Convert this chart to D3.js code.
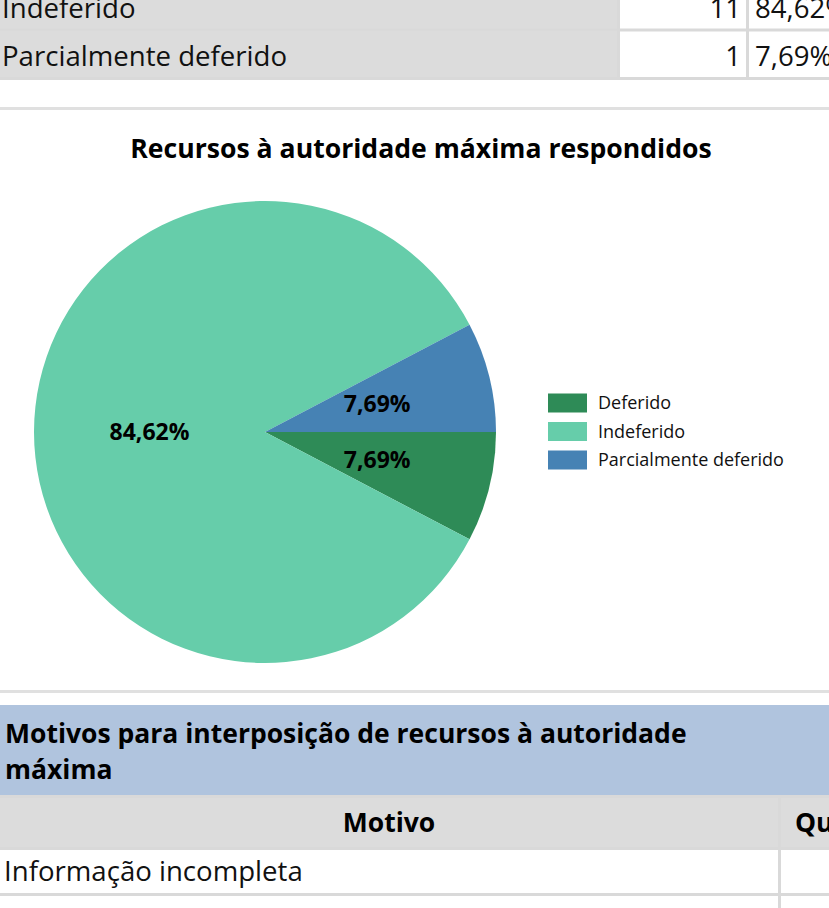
<!DOCTYPE html>
<html>
<head>
<meta charset="utf-8">
<script src="https://cdn.jsdelivr.net/npm/d3@7"></script>
<style>
  body { margin: 0; background: #fff; }
  svg text { font-family: "Open Sans", "Noto Sans", sans-serif; }
</style>
</head>
<body>
<div id="page"></div>
<script>
// chart data
var categories = ["Deferido", "Indeferido", "Parcialmente deferido"]
var counts = [1, 11, 1]
var colors = ["#2e8b57", "#66cdaa", "#4682b4"]
var chartTitle = "Recursos à autoridade máxima respondidos"

// table rows around the chart (visible parts only)
var topRows = [["Indeferido", 11], ["Parcialmente deferido", 1]]
var motivoTitle = ["Motivos para interposição de recursos à autoridade", "máxima"]
var motivoHeader = ["Motivo", "Qu"]
var motivoRows = ["Informação incompleta", ""]

var width = 829, height = 908
var total = d3.sum(counts)
var fmt = function(v) { return d3.format(".2f")(v / total * 100).replace(".", ",") + "%" }

var svg = d3.select("#page").append("svg")
    .attr("width", width)
    .attr("height", height)

var lineColor = "#d9d9d9", cellGray = "#dcdcdc"
var bodySize = 27.6, boldSize = 26.5

// ---- top table ----
var rowY = d3.scaleBand().domain(d3.range(topRows.length)).range([-18, 79]).paddingInner(0)
var topTable = svg.append("g")
topRows.forEach(function(r, i) {
  var y = rowY(i), h = rowY.bandwidth()
  topTable.append("rect").attr("x", 0).attr("y", y).attr("width", 618).attr("height", h).attr("fill", cellGray)
  topTable.append("text").attr("x", 2).attr("y", y + h - 13).attr("font-size", bodySize).attr("fill", "#111").text(r[0])
  topTable.append("text").attr("x", 741).attr("y", y + h - 13).attr("text-anchor", "end").attr("font-size", bodySize).attr("fill", "#111").text(r[1])
  topTable.append("text").attr("x", 755).attr("y", y + h - 13).attr("font-size", bodySize).attr("fill", "#111").text(fmt(r[1]))
  topTable.append("rect").attr("x", 0).attr("y", y + h - 2).attr("width", width).attr("height", 3).attr("fill", lineColor)
})
topTable.append("rect").attr("x", 617).attr("y", 0).attr("width", 3).attr("height", 79).attr("fill", lineColor)
topTable.append("rect").attr("x", 746).attr("y", 0).attr("width", 3).attr("height", 79).attr("fill", lineColor)

svg.append("rect").attr("x", 0).attr("y", 107).attr("width", width).attr("height", 3).attr("fill", "#e0e0e0")
svg.append("rect").attr("x", 0).attr("y", 690).attr("width", width).attr("height", 3).attr("fill", "#e0e0e0")

// ---- pie chart ----
svg.append("text")
    .attr("x", 421).attr("y", 158)
    .attr("text-anchor", "middle")
    .attr("font-size", 26.6).attr("font-weight", "bold").attr("fill", "#000")
    .text(chartTitle)

var radius = 231
var pie = d3.pie().sort(null).value(function(d) { return d })
    .startAngle(Math.PI / 2).endAngle(Math.PI / 2 + 2 * Math.PI)
var arc = d3.arc().innerRadius(0).outerRadius(radius)

var g = svg.append("g").attr("transform", "translate(265,432)")
var slices = g.selectAll(".arc").data(pie(counts)).enter().append("g").classed("arc", true)
slices.append("path")
    .attr("d", arc)
    .attr("fill", function(d, i) { return colors[i] })
slices.append("text")
    .attr("transform", function(d) { return "translate(" + arc.centroid(d) + ")" })
    .attr("text-anchor", "middle").attr("dy", "0.35em")
    .attr("font-size", 23).attr("font-weight", "bold").attr("fill", "#000")
    .text(function(d) { return fmt(d.data) })

var legendY = d3.scalePoint().domain(categories).range([403, 460])
var legend = svg.append("g").selectAll("g").data(categories).enter().append("g")
    .attr("transform", function(d) { return "translate(548," + legendY(d) + ")" })
legend.append("rect").attr("x", 0).attr("y", -9.5).attr("width", 39).attr("height", 19)
    .attr("fill", function(d, i) { return colors[i] })
legend.append("text").attr("x", 50).attr("dy", "0.35em").attr("font-size", 18).attr("fill", "#111")
    .text(function(d) { return d })

// ---- motivos table ----
var bot = svg.append("g")
bot.append("rect").attr("x", 0).attr("y", 705).attr("width", width).attr("height", 90).attr("fill", "#b0c4de")
motivoTitle.forEach(function(t, i) {
  bot.append("text").attr("x", 5).attr("y", 743 + i * 36).attr("font-size", boldSize).attr("font-weight", "bold").attr("fill", "#000").text(t)
})
bot.append("rect").attr("x", 0).attr("y", 795).attr("width", width).attr("height", 3).attr("fill", lineColor)
bot.append("rect").attr("x", 0).attr("y", 798).attr("width", width).attr("height", 50).attr("fill", cellGray)
bot.append("text").attr("x", 389).attr("y", 832).attr("text-anchor", "middle").attr("font-size", boldSize).attr("font-weight", "bold").attr("fill", "#000").text(motivoHeader[0])
bot.append("text").attr("x", 795).attr("y", 832).attr("font-size", boldSize).attr("font-weight", "bold").attr("fill", "#000").text(motivoHeader[1])
bot.append("rect").attr("x", 0).attr("y", 847).attr("width", width).attr("height", 3).attr("fill", lineColor)
bot.append("text").attr("x", 4).attr("y", 881).attr("font-size", bodySize).attr("fill", "#111").text(motivoRows[0])
bot.append("rect").attr("x", 0).attr("y", 893).attr("width", width).attr("height", 3).attr("fill", lineColor)
bot.append("rect").attr("x", 778).attr("y", 798).attr("width", 3).attr("height", 110).attr("fill", lineColor)
</script>
</body>
</html>
